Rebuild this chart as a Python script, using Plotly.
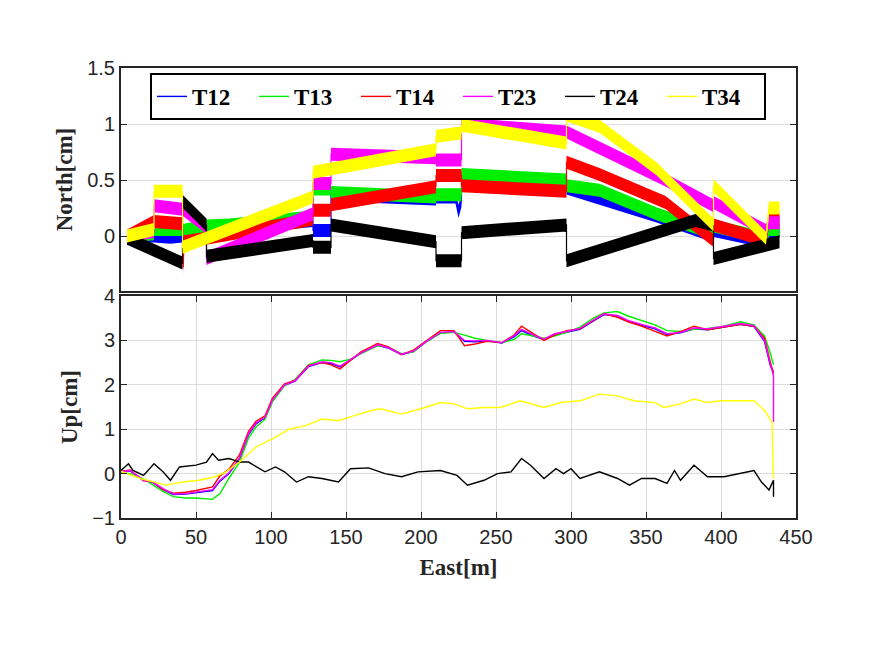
import plotly.graph_objects as go
from plotly.subplots import make_subplots

names = ["T12", "T13", "T14", "T23", "T24", "T34"]
colors = ["#0000ff", "#00ee00", "#ff0000", "#ff00ff", "#000000", "#ffff00"]

# ---- North (top panel): East position [m] and North [cm] (centre of each noisy band)
n_t12_x = [4, 22, 33, 41, 57, 128, 128, 140, 140, 210, 210, 223, 225, 227, 227, 297, 297, 357, 395, 395, 430, 432, 439]
n_t12_y = [0.0, 0.0, -0.01, 0.0, 0.05, 0.14, 0.05, 0.05, 0.37, 0.33, 0.35, 0.35, 0.22, 0.32, 0.52, 0.48, 0.43, 0.18, 0.0, 0.05, -0.05, 0.04, 0.04]
n_t13_x = [4, 22, 22, 41, 41, 57, 72, 128, 128, 140, 140, 210, 210, 227, 227, 297, 297, 319, 357, 395, 395, 430, 432, 439]
n_t13_y = [0.0, 0.02, 0.06, 0.06, 0.05, 0.09, 0.1, 0.17, 0.42, 0.42, 0.39, 0.35, 0.37, 0.37, 0.55, 0.5, 0.45, 0.41, 0.2, 0.02, 0.09, -0.02, 0.06, 0.06]
n_t14_x = [4, 22, 41, 41.5, 42, 57, 128, 128, 140, 140, 210, 210, 227, 227, 297, 297, 319, 363, 395, 395, 430, 432, 439]
n_t14_y = [0.0, 0.13, 0.11, -0.28, -0.05, -0.02, 0.15, 0.23, 0.23, 0.28, 0.44, 0.54, 0.54, 0.45, 0.4, 0.66, 0.55, 0.3, -0.04, 0.1, -0.04, 0.15, 0.15]
n_t23_x = [4, 22, 22, 41, 57, 57, 128, 128, 140, 140, 210, 210, 227, 227, 297, 363, 395, 395, 430, 432, 439]
n_t23_y = [0.0, 0.04, 0.27, 0.24, 0.08, -0.2, 0.2, 0.47, 0.47, 0.73, 0.7, 0.68, 0.68, 1.0, 0.93, 0.5, 0.27, 0.3, 0.05, 0.12, 0.12]
n_t24_x = [4, 41, 41, 57, 57, 128, 128, 140, 140, 210, 210, 227, 227, 297, 297, 383, 395, 395, 439]
n_t24_y = [-0.02, -0.24, 0.31, 0.1, -0.18, -0.04, -0.1, -0.1, 0.1, -0.05, -0.22, -0.22, 0.03, 0.1, -0.22, 0.14, 0.1, -0.2, -0.05]
n_t34_x = [4, 22, 22, 41, 41, 128, 128, 210, 210, 227, 227, 297, 297, 319, 357, 395, 395, 430, 432, 439]
n_t34_y = [0.0, 0.06, 0.4, 0.4, -0.1, 0.35, 0.57, 0.77, 0.89, 0.92, 0.99, 0.83, 1.08, 0.98, 0.6, 0.1, 0.45, -0.02, 0.25, 0.25]

# ---- Up (bottom panel)
u_x = [0, 6, 15, 21, 28, 35, 43, 50, 61, 66, 72, 79, 85, 90, 96, 101, 109, 116, 125, 134, 140, 146, 153, 160,
       171, 178, 187, 195, 204, 213, 222, 229, 236, 244, 254, 262, 267, 275, 282, 289, 297, 306, 315, 322,
       331, 338, 347, 356, 364, 373, 382, 391, 402, 413, 422, 429, 433, 435, 435]
u_t23 = [0.04, 0.07, -0.15, -0.19, -0.34, -0.46, -0.45, -0.41, -0.36, -0.15, 0.02, 0.35, 0.9, 1.14, 1.27, 1.66,
         2.0, 2.09, 2.42, 2.52, 2.5, 2.42, 2.57, 2.72, 2.9, 2.84, 2.69, 2.76, 2.99, 3.18, 3.2, 3.0, 2.99, 3.0,
         2.95, 3.1, 3.25, 3.12, 3.03, 3.15, 3.2, 3.27, 3.46, 3.6, 3.56, 3.45, 3.36, 3.28, 3.15, 3.18, 3.28, 3.26,
         3.32, 3.38, 3.33, 3.0, 2.45, 2.2, 1.16]
u_t12 = [0.04, 0.06, -0.14, -0.2, -0.36, -0.47, -0.46, -0.43, -0.38, -0.17, 0.0, 0.33, 0.88, 1.12, 1.26, 1.64,
         1.99, 2.08, 2.41, 2.5, 2.48, 2.4, 2.55, 2.71, 2.89, 2.83, 2.68, 2.75, 2.98, 3.17, 3.19, 2.98, 2.97, 2.99,
         2.94, 3.08, 3.22, 3.1, 3.02, 3.13, 3.18, 3.25, 3.44, 3.58, 3.55, 3.43, 3.34, 3.26, 3.13, 3.17, 3.26, 3.24,
         3.3, 3.36, 3.31, 2.98, 2.42, 2.3, 2.3]
u_t14 = [0.05, 0.08, -0.16, -0.18, -0.36, -0.44, -0.42, -0.38, -0.3, -0.05, 0.1, 0.42, 0.95, 1.18, 1.3, 1.7,
         2.02, 2.1, 2.44, 2.5, 2.45, 2.36, 2.55, 2.74, 2.93, 2.86, 2.68, 2.78, 3.0, 3.22, 3.22, 2.88, 2.92, 2.98,
         2.95, 3.12, 3.32, 3.14, 3.0, 3.12, 3.22, 3.26, 3.45, 3.6, 3.52, 3.42, 3.32, 3.2, 3.1, 3.2, 3.32, 3.24,
         3.3, 3.36, 3.32, 3.05, 2.5, 2.25, 2.25]
u_t13 = [0.02, 0.0, -0.12, -0.25, -0.4, -0.52, -0.55, -0.55, -0.58, -0.45, -0.1, 0.25, 0.8, 1.05, 1.22, 1.62,
         1.98, 2.12, 2.45, 2.56, 2.55, 2.52, 2.58, 2.7, 2.88, 2.85, 2.7, 2.74, 2.98, 3.16, 3.18, 3.12, 3.05, 3.0,
         2.95, 3.02, 3.15, 3.1, 3.05, 3.1, 3.18, 3.3, 3.5, 3.62, 3.65, 3.55, 3.45, 3.35, 3.22, 3.2, 3.25, 3.27,
         3.32, 3.42, 3.35, 3.1, 2.7, 2.45, 2.45]
u_t34_x = [0, 13, 30, 41, 52, 63, 70, 79, 90, 101, 112, 123, 134, 145, 156, 167, 173, 187, 200, 213, 222, 231,
           242, 253, 266, 282, 293, 306, 319, 331, 342, 356, 362, 373, 382, 391, 400, 413, 422, 429, 434, 435]
u_t34 = [0.05, -0.11, -0.26, -0.19, -0.15, -0.07, 0.04, 0.26, 0.6, 0.78, 1.0, 1.08, 1.23, 1.19, 1.31, 1.42,
         1.46, 1.34, 1.46, 1.6, 1.57, 1.46, 1.49, 1.49, 1.64, 1.49, 1.6, 1.64, 1.79, 1.75, 1.64, 1.6, 1.49, 1.57,
         1.68, 1.6, 1.64, 1.64, 1.64, 1.42, 1.16, -0.11]
u_t24_x = [0, 5, 8, 15, 22, 28, 33, 39, 50, 57, 61, 65, 72, 79, 85, 96, 103, 109, 117, 125, 134, 145, 153, 165,
           176, 187, 198, 211, 213, 224, 231, 242, 251, 260, 267, 273, 282, 290, 295, 300, 306, 319, 331, 339,
           347, 356, 364, 369, 373, 382, 391, 402, 413, 422, 427, 432, 434, 435, 435]
u_t24 = [0.07, 0.22, 0.07, -0.04, 0.22, 0.04, -0.15, 0.15, 0.19, 0.26, 0.45, 0.3, 0.34, 0.26, 0.26, 0.04, 0.15,
         0.04, -0.19, -0.07, -0.11, -0.19, 0.11, 0.13, 0.0, -0.07, 0.04, 0.07, 0.07, -0.04, -0.26, -0.15, 0.0,
         0.04, 0.34, 0.19, -0.11, 0.11, 0.0, 0.11, -0.11, 0.04, -0.11, -0.26, -0.11, -0.11, -0.22, 0.07, -0.15,
         0.19, -0.07, -0.07, 0.0, 0.07, -0.19, -0.37, -0.22, -0.15, -0.52]

north_x = [n_t12_x, n_t13_x, n_t14_x, n_t23_x, n_t24_x, n_t34_x]
north_y = [n_t12_y, n_t13_y, n_t14_y, n_t23_y, n_t24_y, n_t34_y]
up_x = [u_x, u_x, u_x, u_x, u_t24_x, u_t34_x]
up_y = [u_t12, u_t13, u_t14, u_t23, u_t24, u_t34]

BAND_HALF = 0.058  # half thickness of the noisy North bands [cm] (style)

fig = make_subplots(rows=2, cols=1, vertical_spacing=0.011)

for i, n in enumerate(names):
    xs, ys = north_x[i], north_y[i]
    px = list(xs) + list(xs)[::-1]
    py = [v + BAND_HALF for v in ys] + [v - BAND_HALF for v in ys][::-1]
    fig.add_trace(go.Scatter(x=px, y=py, mode="lines", fill="toself", fillcolor=colors[i],
                             line=dict(width=0, color=colors[i]), showlegend=False,
                             hoverinfo="skip"), row=1, col=1)
    fig.add_trace(go.Scatter(x=xs, y=ys, mode="lines", name=n, showlegend=False,
                             line=dict(color=colors[i], width=1.2)), row=1, col=1)
for i, n in enumerate(names):
    fig.add_trace(go.Scatter(x=up_x[i], y=up_y[i], mode="lines", name="<b>" + n + "</b>",
                             showlegend=True, line=dict(color=colors[i], width=1.4)), row=2, col=1)

axcol = "#262626"
gridc = "#dcdcdc"
tickfont = dict(family="Liberation Sans, Arial", size=20, color=axcol)
titlefont = dict(family="Liberation Serif, Times New Roman", size=23, color=axcol)

fig.update_xaxes(range=[0, 450], showline=True, linecolor=axcol, linewidth=2, mirror=True,
                 showgrid=False, zeroline=False, showticklabels=False, ticks="", row=1, col=1)
fig.update_yaxes(range=[-0.49, 1.5], tickvals=[0, 0.5, 1, 1.5], ticktext=["0", "0.5", "1", "1.5"],
                 showline=True, linecolor=axcol, linewidth=2, mirror="ticks", ticks="inside",
                 ticklen=6, tickcolor=axcol, showgrid=True, gridcolor=gridc, gridwidth=1, zeroline=False,
                 tickfont=tickfont, title=dict(text="<b>North[cm]</b>", font=titlefont, standoff=8),
                 row=1, col=1)
fig.update_xaxes(range=[0, 450], tickvals=list(range(0, 451, 50)), showline=True, linecolor=axcol,
                 linewidth=2, mirror="ticks", ticks="inside", ticklen=6, tickcolor=axcol,
                 showgrid=True, gridcolor=gridc, gridwidth=1, zeroline=False, tickfont=tickfont,
                 title=dict(text="<b>East[m]</b>", font=titlefont, standoff=12), row=2, col=1)
fig.update_yaxes(range=[-1, 4], tickvals=[-1, 0, 1, 2, 3, 4], showline=True, linecolor=axcol,
                 linewidth=2, mirror="ticks", ticks="inside", ticklen=6, tickcolor=axcol,
                 showgrid=True, gridcolor=gridc, gridwidth=1, zeroline=False, tickfont=tickfont,
                 title=dict(text="<b>Up[cm]</b>", font=titlefont, standoff=8), row=2, col=1)

fig.update_layout(
    width=872, height=653,
    margin=dict(l=113, r=84, t=60, b=143),
    paper_bgcolor="white", plot_bgcolor="white",
    legend=dict(orientation="h", x=0.043, y=0.989, xanchor="left", yanchor="top",
                bgcolor="white", bordercolor="#000000", borderwidth=2,
                font=dict(family="Liberation Serif, Times New Roman", size=23, color="#000000"),
                entrywidth=57, entrywidthmode="pixels", traceorder="normal"),
)
fig.layout.yaxis.domain = [0.5044, 1.0]
fig.layout.yaxis2.domain = [0.0, 0.4933]

fig.write_html("out.html")
